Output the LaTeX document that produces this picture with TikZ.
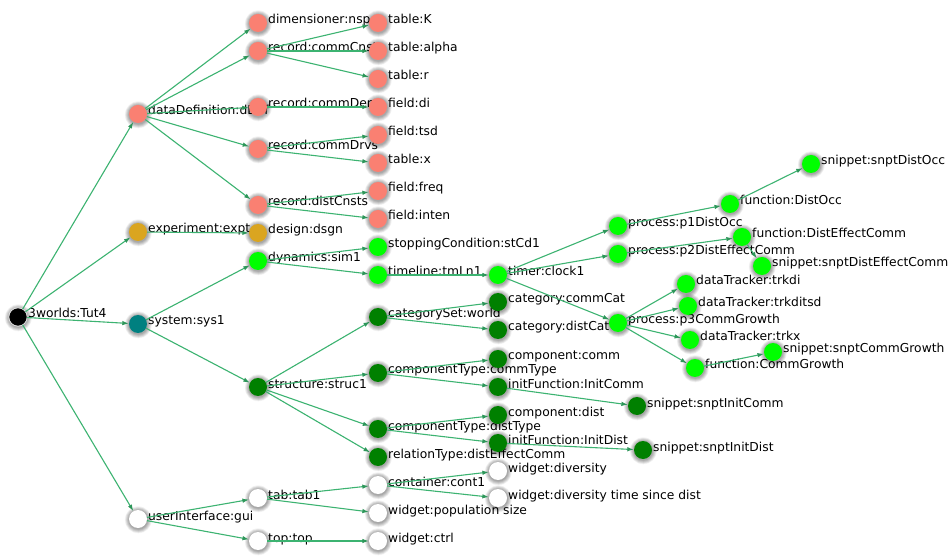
\documentclass[tikz,border=0pt]{standalone}
\usepackage{fontspec}
\setmainfont{DejaVu Sans}
\usetikzlibrary{arrows.meta}
\definecolor{edgec}{RGB}{60,179,113}
\definecolor{tipc}{RGB}{46,150,90}
\definecolor{salmonc}{RGB}{250,128,114}
\definecolor{goldc}{RGB}{218,165,32}
\definecolor{limec}{RGB}{0,255,0}
\definecolor{tealc}{RGB}{0,128,128}
\definecolor{darkg}{RGB}{0,128,0}
\begin{document}
\begin{tikzpicture}[x=1bp,y=-1bp,
  vert/.style={circle,minimum size=18bp,inner sep=0pt,fill=#1},
  lbl/.style={anchor=base west,inner sep=0pt,font=\fontsize{12.3bp}{14bp}\selectfont},
  conn/.style={draw=edgec,line width=1.1bp,-{Latex[length=6.5bp,width=4.5bp,color=tipc]}},
  halo/.style={fill=black,opacity=0.045}]
\fill[white] (0,0) rectangle (952,560);
\useasboundingbox (0,0) rectangle (952,560);
\def\nodelist{root/18/317/black/3worlds:Tut4,
dd/138/114/salmonc/dataDefinition:dDef,
ex/138/232/goldc/experiment:expt,
sy/138/324/tealc/system:sys1,
ui/138/519/white/userInterface:gui,
dim/258/23/salmonc/dimensioner:nsp,
rcc/258/51/salmonc/record:commCnsts,
rcd/258/107/salmonc/record:commDem,
rcv/258/149/salmonc/record:commDrvs,
rdc/258/205/salmonc/record:distCnsts,
dsg/258/233/goldc/design:dsgn,
dyn/258/261/limec/dynamics:sim1,
str/258/387/darkg/structure:struc1,
tab/258/498/white/tab:tab1,
top/258/541/white/top:top,
tK/378/23/salmonc/table:K,
tal/378/51/salmonc/table:alpha,
tr/378/79/salmonc/table:r,
fdi/378/107/salmonc/field:di,
ftsd/378/135/salmonc/field:tsd,
tx/378/163/salmonc/table:x,
ffr/378/191/salmonc/field:freq,
fin/378/219/salmonc/field:inten,
sc/378/247/limec/stoppingCondition:stCd1,
tl/378/275/limec/timeline:tmLn1,
cs/378/317/darkg/categorySet:world,
cct/378/373/darkg/componentType:commType,
cdt/378/429/darkg/componentType:distType,
rt/378/457/darkg/relationType:distEffectComm,
cont/378/485/white/container:cont1,
wps/378/513/white/widget:population size,
wct/378/541/white/widget:ctrl,
tim/498/275/limec/timer:clock1,
ccat/498/302/darkg/category:commCat,
dcat/498/330/darkg/category:distCat,
comc/498/359/darkg/component:comm,
ifc/498/387/darkg/initFunction:InitComm,
comd/498/415/darkg/component:dist,
ifd/498/443/darkg/initFunction:InitDist,
wdv/498/471/white/widget:diversity,
wdt/498/498/white/widget:diversity time since dist,
p1/618/226/limec/process:p1DistOcc,
p2/618/254/limec/process:p2DistEffectComm,
p3/618/323/limec/process:p3CommGrowth,
sic/637/406/darkg/snippet:snptInitComm,
sid/643/450/darkg/snippet:snptInitDist,
fdo/730/204/limec/function:DistOcc,
fde/742/237/limec/function:DistEffectComm,
sde/762/266/limec/snippet:snptDistEffectComm,
sdo/811/164/limec/snippet:snptDistOcc,
trkdi/686/284/limec/dataTracker:trkdi,
trkts/688/306/limec/dataTracker:trkditsd,
trkx/690/340/limec/dataTracker:trkx,
fcg/695/368/limec/function:CommGrowth,
scg/773/352/limec/snippet:snptCommGrowth}
% labels
\foreach \n/\x/\y/\c/\t in \nodelist {
  \node[lbl] (\n-l) at (\x+10,\y+1) {\t};
}
% halos
\foreach \n/\x/\y/\c/\t in \nodelist {
  \foreach \r in {13.5,13,12.5,12,11.5,11,10.5,10,9.6} {\fill[halo] (\x+0.3,\y+0.8) circle (\r);}
}
% vertices
\foreach \n/\x/\y/\c/\t in \nodelist {
  \node[vert=\c] (\n) at (\x,\y) {};
}
\draw[white!75!gray,line width=0.8bp] (root) circle (9.2);
% connectors
\foreach \a/\b in {root/dd,root/ex,root/sy,root/ui,
  dd/dim,dd/rcc,dd/rcd,dd/rcv,dd/rdc,
  rcc/tK,rcc/tal,rcc/tr,rcd/fdi,rcv/ftsd,rcv/tx,rdc/ffr,rdc/fin,
  ex/dsg,sy/dyn,sy/str,dyn/sc,dyn/tl,tl/tim,
  tim/p1,tim/p2,tim/p3,p1/fdo,fdo/sdo,p2/fde,fde/sde,
  p3/trkdi,p3/trkts,p3/trkx,p3/fcg,fcg/scg,
  str/cs,str/cct,str/cdt,str/rt,cs/ccat,cs/dcat,
  cct/comc,cct/ifc,ifc/sic,cdt/comd,cdt/ifd,ifd/sid,
  ui/tab,ui/top,tab/cont,tab/wps,cont/wdv,cont/wdt,top/wct} {
  \draw[conn] (\a) -- (\b);
}
\end{tikzpicture}
\end{document}
